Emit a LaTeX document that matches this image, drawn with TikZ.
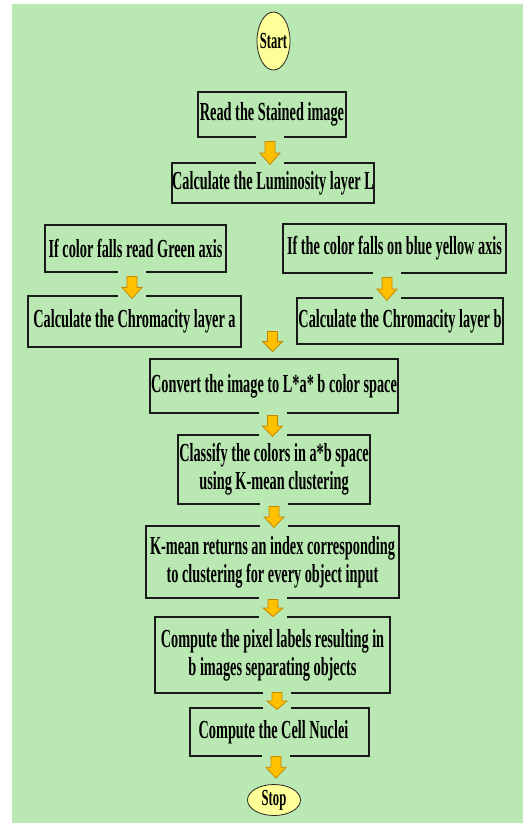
\documentclass[tikz,border=0pt]{standalone}
\usepackage{fontspec}
\setmainfont{Liberation Serif}[FakeStretch=0.55]
\usetikzlibrary{shapes.geometric,calc}
\definecolor{bgc}{RGB}{186,232,178}
\definecolor{arrfill}{RGB}{255,192,0}
\definecolor{arrline}{RGB}{196,136,0}
\definecolor{ovalfill}{RGB}{255,255,153}
\tikzset{
  box/.style={draw=black!90, line width=1.1pt, inner sep=0pt, align=center,
    font=\bfseries\fontsize{26}{28}\selectfont},
  oval/.style={ellipse, draw=black!85, fill=ovalfill, line width=0.8pt, inner sep=0pt,
    font=\bfseries\fontsize{23}{25}\selectfont},
  barr/.style={fill=arrfill, draw=arrline, line width=0.8pt, line join=miter}
}
\newcommand\barrow[2]{%
  \fill[bgc] let \p1=#1, \p2=#2 in (\x1-14pt,\y1+6pt) rectangle (\x1+14pt,\y2-2pt);
  \filldraw[barr] let \p1=#1, \p2=#2, \p3=($0.5*(\p1)+0.5*(\x1,\y2)$) in
    (\x1-5pt,\y1) -- (\x1+5pt,\y1) -- (\x1+5pt,\y3) -- (\x1+10pt,\y3)
    -- (\x1,\y2) -- (\x1-10pt,\y3) -- (\x1-5pt,\y3) -- cycle;}
\begin{document}
\begin{tikzpicture}[x=1pt,y=-1pt]
\useasboundingbox (0,0) rectangle (523,823);
\fill[bgc] (12,4) rectangle (523,823);

\node[oval, minimum width=33pt, minimum height=58pt] (start) at (273.5,41) {\makebox[0pt]{Start}};
\node[box, minimum width=148pt, minimum height=45pt] (read) at (272,114.5) {Read the Stained image};
\node[box, minimum width=202pt, minimum height=40pt] (lum) at (273,183) {Calculate the Luminosity layer L};
\node[box, minimum width=181pt, minimum height=47pt] (green) at (135.5,248.5) {If color falls read Green axis};
\node[box, minimum width=213pt, minimum height=51pt] (chra) at (134.5,321.5) {Calculate the Chromacity layer a};
\node[box, minimum width=223pt, minimum height=49pt] (blue) at (394.5,248.5) {If the color falls on blue yellow axis};
\node[box, minimum width=206pt, minimum height=46pt] (chrb) at (400,321) {Calculate the Chromacity layer b};
\node[box, minimum width=248pt, minimum height=54pt] (conv) at (274,386) {Convert the image to L*a* b color space};
\node[box, minimum width=192pt, minimum height=69pt] (class) at (274,469.5) {Classify the colors in a*b space\\using K-mean clustering};
\node[box, minimum width=253pt, minimum height=72pt] (kmean) at (272.5,562) {K-mean returns an index corresponding\\to clustering for every object input};
\node[box, minimum width=235pt, minimum height=76pt] (pix) at (272.5,655) {Compute the pixel labels resulting in\\b images separating objects};
\node[box, minimum width=179pt, minimum height=48pt] (nuc) at (279.5,732) {Compute the Cell Nuclei\hspace{12pt}};
\node[oval, minimum width=53pt, minimum height=31pt] (stop) at (274,800) {\makebox[0pt]{Stop}};

\barrow{($(read.south)+(-2,4)$)}{($(lum.north)+(0,2)$)}
\barrow{($(green.south)+(-3.5,4)$)}{($(chra.north)+(0,3)$)}
\barrow{($(blue.south)+(-7.5,4)$)}{($(chrb.north)+(0,3)$)}
\barrow{($(conv.north)+(-1.5,-27)$)}{($(conv.north)+(0,-7)$)}
\barrow{($(conv.south)+(-1.5,2)$)}{($(class.north)+(0,2)$)}
\barrow{($(class.south)+(0,2)$)}{($(kmean.north)+(0,2)$)}
\barrow{($(kmean.south)+(0.5,1)$)}{($(pix.north)+(0,0)$)}
\barrow{($(pix.south)+(4.5,-1)$)}{($(nuc.north)+(0,2)$)}
\barrow{($(nuc.south)+(-3.5,0)$)}{($(stop.north)+(0,-6)$)}
\end{tikzpicture}
\end{document}
